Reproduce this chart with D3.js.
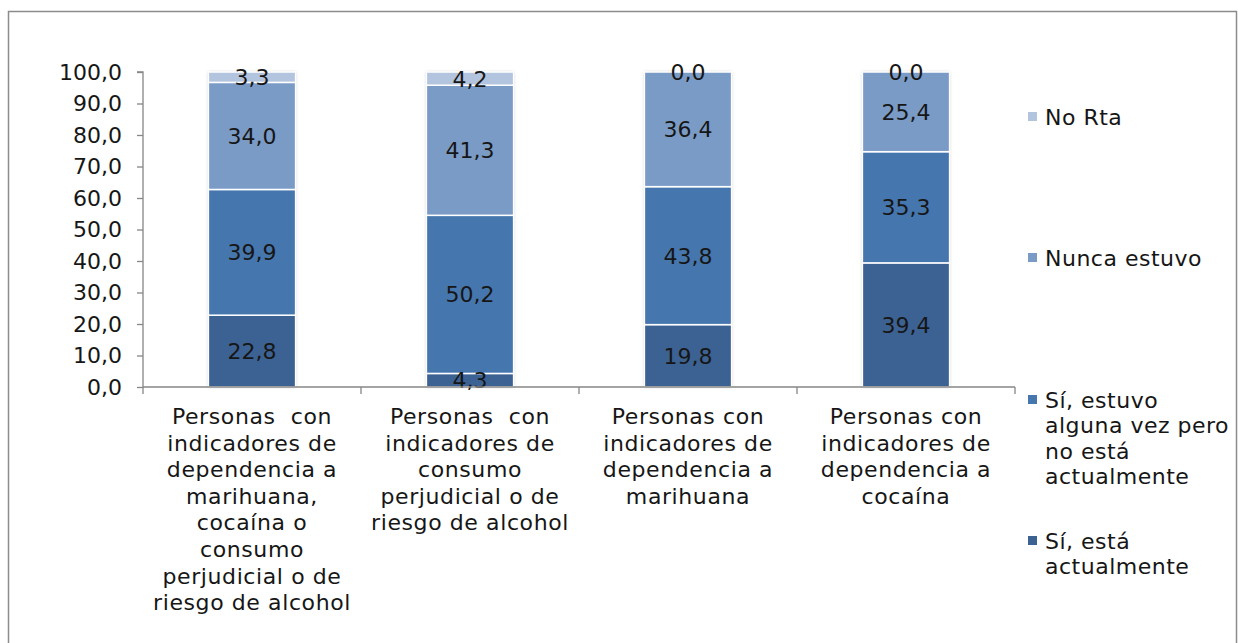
<!DOCTYPE html>
<html>
<head>
<meta charset="utf-8">
<script src="https://cdn.jsdelivr.net/npm/d3@7"></script>
<style>
  html, body { margin: 0; padding: 0; background: #fff; }
  svg { display: block; }
  text { font-family: "DejaVu Sans", sans-serif; fill: #161616; white-space: pre; }
</style>
</head>
<body>
<svg id="chart" width="1238" height="643"></svg>
<script>
// Categories (multi-line labels)
const categories = [
  ["Personas  con", "indicadores de", "dependencia a", "marihuana,", "cocaína o", "consumo", "perjudicial o de", "riesgo de alcohol"],
  ["Personas  con", "indicadores de", "consumo", "perjudicial o de", "riesgo de alcohol"],
  ["Personas con", "indicadores de", "dependencia a", "marihuana"],
  ["Personas con", "indicadores de", "dependencia a", "cocaína"]
];

// Series, stacked from the bottom
const seriesNames = ["Sí, está actualmente", "Sí, estuvo alguna vez pero no está actualmente", "Nunca estuvo", "No Rta"];
const siEsta      = [22.8, 4.3, 19.8, 39.4];
const siEstuvo    = [39.9, 50.2, 43.8, 35.3];
const nuncaEstuvo = [34.0, 41.3, 36.4, 25.4];
const noRta       = [3.3, 4.2, 0.0, 0.0];

const yTicks = [0, 10, 20, 30, 40, 50, 60, 70, 80, 90, 100];

const legendLines = [
  ["No Rta"],
  ["Nunca estuvo"],
  ["Sí, estuvo", "alguna vez pero", "no está", "actualmente"],
  ["Sí, está", "actualmente"]
];
const colors = ["#3c6293", "#4676ae", "#7b9bc7", "#b3c4df"];

const FS = 22;
const svg = d3.select("#chart");

// outer frame
svg.append("rect")
  .attr("x", 8.5).attr("y", 11.5).attr("width", 1228).attr("height", 660)
  .attr("fill", "none").attr("stroke", "#8c8c8c").attr("stroke-width", 1.5);

const plotLeft = 143, plotRight = 1015, plotTop = 72, plotBottom = 387;

const x = d3.scaleBand().domain(d3.range(categories.length)).range([plotLeft, plotRight]).padding(0);
const y = d3.scaleLinear().domain([0, 100]).range([plotBottom, plotTop]);

const seriesValues = [siEsta, siEstuvo, nuncaEstuvo, noRta];
const table = categories.map((c, i) => {
  const row = { idx: i };
  seriesValues.forEach((s, k) => row["s" + k] = s[i]);
  return row;
});
const stacked = d3.stack().keys(["s0", "s1", "s2", "s3"])(table);
const fmt = v => d3.format(".1f")(v).replace(".", ",");

// soft shadow around bars
const defs = svg.append("defs");
const f = defs.append("filter").attr("id", "sh").attr("x", "-20%").attr("y", "-5%").attr("width", "140%").attr("height", "110%");
f.append("feDropShadow").attr("dx", 0).attr("dy", 0).attr("stdDeviation", 1.8)
  .attr("flood-color", "#000").attr("flood-opacity", 0.25);

const barW = x.bandwidth() * 0.4;
const bars = svg.append("g");
const totalOf = i => Math.min(100, d3.sum(seriesValues, s => s[i]));

// shadow backing per bar
bars.selectAll("rect.bg").data(table).join("rect")
  .attr("class", "bg")
  .attr("x", d => x(d.idx) + (x.bandwidth() - barW) / 2)
  .attr("y", d => y(totalOf(d.idx)))
  .attr("width", barW)
  .attr("height", d => y(0) - y(totalOf(d.idx)))
  .attr("fill", "#fff")
  .attr("filter", "url(#sh)");

stacked.forEach((layer, k) => {
  bars.append("g").selectAll("rect").data(layer.filter(d => d[1] - d[0] > 0)).join("rect")
    .attr("x", d => x(d.data.idx) + (x.bandwidth() - barW) / 2)
    .attr("y", d => y(Math.min(100, d[1])))
    .attr("width", barW)
    .attr("height", d => y(d[0]) - y(Math.min(100, d[1])))
    .attr("fill", colors[k])
    .attr("stroke", "#fff").attr("stroke-width", 1.5);
});

// value labels
stacked.forEach((layer, k) => {
  svg.append("g").selectAll("text").data(layer).join("text")
    .attr("x", d => x(d.data.idx) + x.bandwidth() / 2)
    .attr("y", d => y(Math.min(100, (d[0] + d[1]) / 2)))
    .attr("dy", "0.36em")
    .attr("text-anchor", "middle")
    .attr("font-size", FS)
    .text(d => fmt(d[1] - d[0]));
});

// y axis
const yAxis = svg.append("g").attr("transform", `translate(${plotLeft},0)`)
  .call(d3.axisLeft(y).tickValues(yTicks).tickSize(6).tickPadding(15).tickFormat(fmt));
yAxis.select(".domain").attr("stroke", "#868686").attr("stroke-width", 1.3).attr("d", `M-6,${plotTop}H0V${plotBottom}`);
yAxis.selectAll(".tick line").attr("stroke", "#868686").attr("stroke-width", 1.3);
yAxis.selectAll(".tick text").attr("font-size", FS).attr("fill", "#161616").attr("font-family", "DejaVu Sans, sans-serif");

// x axis line and boundary ticks
const xg = svg.append("g");
xg.append("line").attr("x1", plotLeft).attr("x2", plotRight).attr("y1", plotBottom).attr("y2", plotBottom)
  .attr("stroke", "#868686").attr("stroke-width", 1.3);
xg.selectAll("line.t").data(d3.range(categories.length + 1)).join("line")
  .attr("class", "t")
  .attr("x1", i => i < categories.length ? x(i) : plotRight)
  .attr("x2", i => i < categories.length ? x(i) : plotRight)
  .attr("y1", plotBottom).attr("y2", plotBottom + 7)
  .attr("stroke", "#868686").attr("stroke-width", 1.3);

// category labels
const catG = svg.append("g");
categories.forEach((lines, i) => {
  const cx = x(i) + x.bandwidth() / 2;
  const t = catG.append("text").attr("x", cx).attr("y", 424)
    .attr("text-anchor", "middle").attr("font-size", FS).attr("letter-spacing", 0.6);
  lines.forEach((ln, j) => {
    t.append("tspan").attr("x", cx).attr("dy", j === 0 ? 0 : 26.6).text(ln);
  });
});

// legend (top to bottom: No Rta ... Sí, está)
const legendY = [117, 258, 400, 541];
const legendColors = [colors[3], colors[2], colors[1], colors[0]];
const lg = svg.append("g");
legendLines.forEach((lines, i) => {
  lg.append("rect").attr("x", 1028).attr("y", legendY[i] - 5).attr("width", 9).attr("height", 9)
    .attr("fill", legendColors[i]);
  const t = lg.append("text").attr("x", 1045).attr("y", legendY[i]).attr("font-size", FS).attr("letter-spacing", 0.5);
  lines.forEach((ln, j) => {
    t.append("tspan").attr("x", 1045).attr("dy", j === 0 ? "0.36em" : 25.5).text(ln);
  });
});
</script>
</body>
</html>
